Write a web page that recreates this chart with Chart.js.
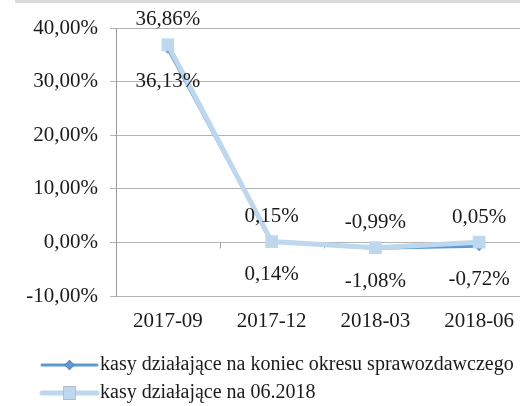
<!DOCTYPE html>
<html>
<head>
<meta charset="utf-8">
<script src="https://cdn.jsdelivr.net/npm/chart.js@4.4.1/dist/chart.umd.min.js"></script>
<style>
  html, body { margin: 0; padding: 0; background: #fff; overflow: hidden; }
  #wrap { position: relative; width: 520px; height: 406px; overflow: hidden; }
  #topBar { position: absolute; left: 15px; top: 0; width: 505px; height: 3px; background: #dcdcdc; }
  #chart { display: block; width: 540px; height: 406px; }
</style>
</head>
<body>
<div id="wrap">
  <div id="topBar"></div>
  <canvas id="chart" width="540" height="406"></canvas>
</div>
<script>
// ================================================================
//  DATA
// ================================================================
const categories = ['2017-09', '2017-12', '2018-03', '2018-06'];
const seriesNames = ['kasy działające na koniec okresu sprawozdawczego', 'kasy działające na 06.2018'];
const endOfPeriod = [36.13, 0.14, -1.08, -0.72];
const asOfJune = [36.86, 0.15, -0.99, 0.05];
const yTicks = [-10, 0, 10, 20, 30, 40];

const serif = '"Liberation Serif", "Times New Roman", serif';
const numFont = '21px ' + serif;
const textFont = '20px ' + serif;
const fmtPct = v => v.toFixed(2).replace('.', ',') + '%';

// data labels: first series below the point, second above
const valueLabels = {
  id: 'valueLabels',
  afterDatasetsDraw(chart) {
    const ctx = chart.ctx;
    ctx.save();
    ctx.font = numFont;
    ctx.fillStyle = '#1a1a1a';
    ctx.textAlign = 'center';
    ctx.textBaseline = 'middle';
    chart.data.datasets.forEach((ds, i) => {
      chart.getDatasetMeta(i).data.forEach((pt, j) => {
        const dy = ds.labelPos === 'below' ? 33 : -25;
        ctx.fillText(fmtPct(ds.data[j]), pt.x, pt.y + dy);
      });
    });
    ctx.restore();
  }
};

// small tick marks on the zero line between categories
const zeroTicks = {
  id: 'zeroTicks',
  beforeDatasetsDraw(chart) {
    const { ctx, scales: { x, y } } = chart;
    const y0 = y.getPixelForValue(0);
    const step = x.getPixelForValue(1) - x.getPixelForValue(0);
    ctx.save();
    ctx.strokeStyle = '#a6a6a6';
    ctx.lineWidth = 1;
    for (let i = 0; i < categories.length - 1; i++) {
      const px = Math.round(x.getPixelForValue(i) + step / 2) + 0.5;
      ctx.beginPath();
      ctx.moveTo(px, y0);
      ctx.lineTo(px, y0 + 6);
      ctx.stroke();
    }
    ctx.restore();
  }
};

// legend: line with marker, stacked rows bottom-left
const lineLegend = {
  id: 'lineLegend',
  afterDraw(chart) {
    const ctx = chart.ctx;
    const rows = [365, 393];
    ctx.save();
    chart.data.datasets.forEach((ds, i) => {
      const y = rows[i];
      ctx.strokeStyle = ds.borderColor;
      ctx.lineWidth = ds.borderWidth;
      ctx.lineCap = 'round';
      ctx.beginPath();
      ctx.moveTo(42, y);
      ctx.lineTo(97, y);
      ctx.stroke();
      Chart.helpers.drawPoint(ctx, {
        pointStyle: ds.pointStyle, radius: ds.pointRadius, borderWidth: 0
      }, 69.5, y);
      ctx.fillStyle = ds.backgroundColor;
      ctx.fill();
      ctx.font = textFont;
      ctx.fillStyle = '#1a1a1a';
      ctx.textAlign = 'left';
      ctx.textBaseline = 'middle';
      ctx.fillText(ds.label, 100, y);
    });
    ctx.restore();
  }
};

new Chart(document.getElementById('chart').getContext('2d'), {
  type: 'line',
  data: {
    labels: categories,
    datasets: [
      {
        label: seriesNames[0], data: endOfPeriod, labelPos: 'below',
        borderColor: '#5b9bd5', backgroundColor: '#5b9bd5', borderWidth: 3,
        pointStyle: 'rectRot', pointRadius: 5, pointBorderWidth: 0,
        tension: 0, order: 2
      },
      {
        label: seriesNames[1], data: asOfJune, labelPos: 'above',
        borderColor: '#bdd7ee', backgroundColor: '#bdd7ee', borderWidth: 5,
        pointStyle: 'rect', pointRadius: 9, pointBorderWidth: 0,
        tension: 0, order: 1
      }
    ]
  },
  options: {
    responsive: false, animation: false, devicePixelRatio: 1,
    layout: { padding: { top: 28, right: 4, bottom: 70, left: 0 } },
    plugins: { legend: { display: false }, tooltip: { enabled: false } },
    scales: {
      x: {
        offset: true,
        grid: { display: false, drawTicks: false },
        border: { display: false },
        ticks: { color: '#1a1a1a', font: { family: serif, size: 21 }, padding: 13, maxRotation: 0, autoSkip: false },
        afterFit: s => { s.height = 40; }
      },
      y: {
        min: -10, max: 40,
        afterBuildTicks: s => { s.ticks = yTicks.map(v => ({ value: v })); },
        grid: { color: '#b3b3b3', tickLength: 6, tickColor: '#b3b3b3' },
        border: { color: '#9a9a9a' },
        ticks: { color: '#1a1a1a', font: { family: serif, size: 21 }, padding: 12, callback: v => fmtPct(v) },
        afterFit: s => { s.width = 116; }
      }
    }
  },
  plugins: [zeroTicks, valueLabels, lineLegend]
});
</script>
</body>
</html>
